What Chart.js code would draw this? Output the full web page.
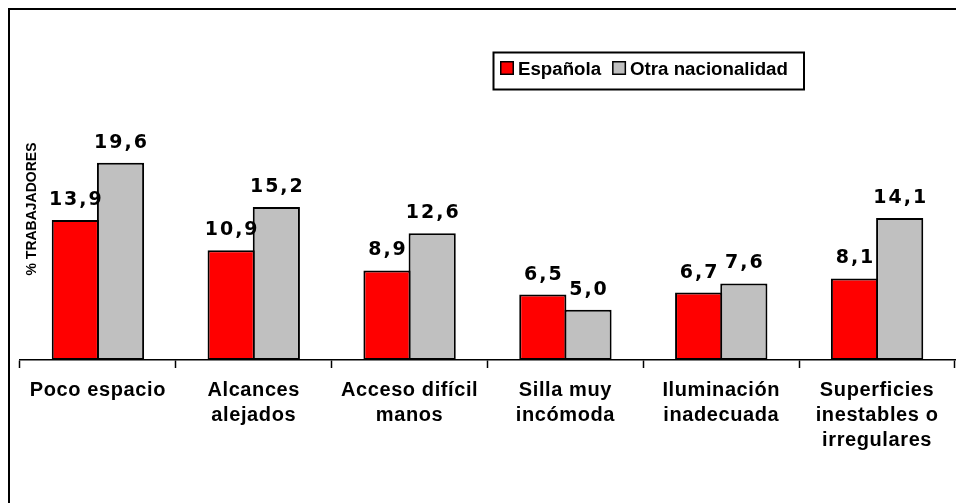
<!DOCTYPE html>
<html>
<head>
<meta charset="utf-8">
<script src="https://cdn.jsdelivr.net/npm/chart.js@4.4.1/dist/chart.umd.min.js"></script>
<style>
  body { margin: 0; background: #fff; overflow: hidden; }
  #wrap { width: 956px; height: 503px; position: relative; }
</style>
</head>
<body>
<div id="wrap"><canvas id="chart"></canvas></div>
<script>
const categories = [
    ["Poco espacio"],
    ["Alcances", "alejados"],
    ["Acceso difícil", "manos"],
    ["Silla muy", "incómoda"],
    ["Iluminación", "inadecuada"],
    ["Superficies", "inestables o", "irregulares"]
];
const seriesNames = ["Española", "Otra nacionalidad"];
const espanola = [13.9, 10.9, 8.9, 6.5, 6.7, 8.1];
const otra = [19.6, 15.2, 12.6, 5.0, 7.6, 14.1];
const yTitle = "% TRABAJADORES";

function fmt(v){
    return v.toFixed(1).replace(".", ",");
}

// outer frame (only top and left show), y title, tick label spacing
const framePlugin = {
    id: "frame",
    beforeDraw(chart){
        let ctx = chart.ctx;
        ctx.save();
        ctx.strokeStyle = "#000";
        ctx.lineWidth = 2;
        ctx.beginPath();
        ctx.moveTo(9, chart.height);
        ctx.lineTo(9, 9);
        ctx.lineTo(chart.width, 9);
        ctx.stroke();

        ctx.translate(32, 209);
        ctx.rotate(-Math.PI / 2);
        ctx.fillStyle = "#000";
        ctx.font = "bold 14px 'Liberation Sans', Arial, sans-serif";
        ctx.textAlign = "center";
        ctx.textBaseline = "middle";
        ctx.fillText(yTitle, 0, 0);
        ctx.restore();
        ctx.letterSpacing = "0.6px";
    },
    afterDraw(chart){
        chart.ctx.letterSpacing = "0px";
    }
};

// value labels above the bars
const valuePlugin = {
    id: "values",
    afterDatasetsDraw(chart){
        let ctx = chart.ctx;
        ctx.save();
        ctx.font = "bold 19px 'DejaVu Sans', Verdana, sans-serif";
        ctx.letterSpacing = "2px";
        ctx.fillStyle = "#000";
        ctx.textAlign = "center";
        ctx.textBaseline = "alphabetic";
        chart.data.datasets.forEach((ds, i)=>{
            chart.getDatasetMeta(i).data.forEach((bar, j)=>{
                ctx.fillText(fmt(ds.data[j]), bar.x + 1, bar.y - 15);
            });
        });
        ctx.restore();
    }
};

// boxed legend
const legendPlugin = {
    id: "boxLegend",
    afterDraw(chart){
        let ctx = chart.ctx;
        ctx.save();
        ctx.letterSpacing = "0px";
        ctx.strokeStyle = "#000";
        ctx.lineWidth = 2;
        ctx.strokeRect(493.5, 52.5, 310.5, 37);

        ctx.font = "bold 18.7px 'Liberation Sans', Arial, sans-serif";
        ctx.textBaseline = "alphabetic";
        ctx.textAlign = "left";
        let x = 500;
        chart.data.datasets.forEach(ds=>{
            ctx.fillStyle = ds.backgroundColor;
            ctx.fillRect(x, 61, 13, 13);
            ctx.lineWidth = 1.5;
            ctx.strokeRect(x + 0.75, 61.75, 12.5, 12.5);
            ctx.fillStyle = "#000";
            ctx.fillText(ds.label, x + 18, 75);
            x += 18 + ctx.measureText(ds.label).width + 11;
        });
        ctx.restore();
    }
};

let chart = new Chart(document.getElementById("chart"), {
    type: "bar",
    data: {
        labels: categories,
        datasets: [
            {
                label: seriesNames[0],
                data: espanola,
                backgroundColor: "#ff0000",
                borderColor: "#000",
                borderWidth: 2,
                borderSkipped: false
            },
            {
                label: seriesNames[1],
                data: otra,
                backgroundColor: "#c0c0c0",
                borderColor: "#000",
                borderWidth: 2,
                borderSkipped: false
            }
        ]
    },
    options: {
        responsive: true,
        maintainAspectRatio: false,
        animation: false,
        devicePixelRatio: 1,
        categoryPercentage: 0.58,
        barPercentage: 1.044,
        layout: {
            padding: { left: 20, right: 1, top: 58, bottom: 0 }
        },
        plugins: {
            legend: { display: false },
            tooltip: { enabled: false }
        },
        scales: {
            x: {
                afterFit: s => { s.height = 143; },
                grid: {
                    offset: true,
                    drawOnChartArea: false,
                    tickLength: 8,
                    tickColor: "#000",
                    tickWidth: 1.5
                },
                border: { display: true, color: "#000", width: 1.5 },
                ticks: {
                    color: "#000",
                    padding: 10,
                    maxRotation: 0,
                    autoSkip: false,
                    font: {
                        family: "'Liberation Sans', Arial, sans-serif",
                        size: 20,
                        weight: "bold",
                        lineHeight: 1.25
                    }
                }
            },
            y: {
                display: false,
                min: 0,
                max: 30
            }
        }
    },
    plugins: [framePlugin, valuePlugin, legendPlugin]
});
</script>
</body>
</html>
